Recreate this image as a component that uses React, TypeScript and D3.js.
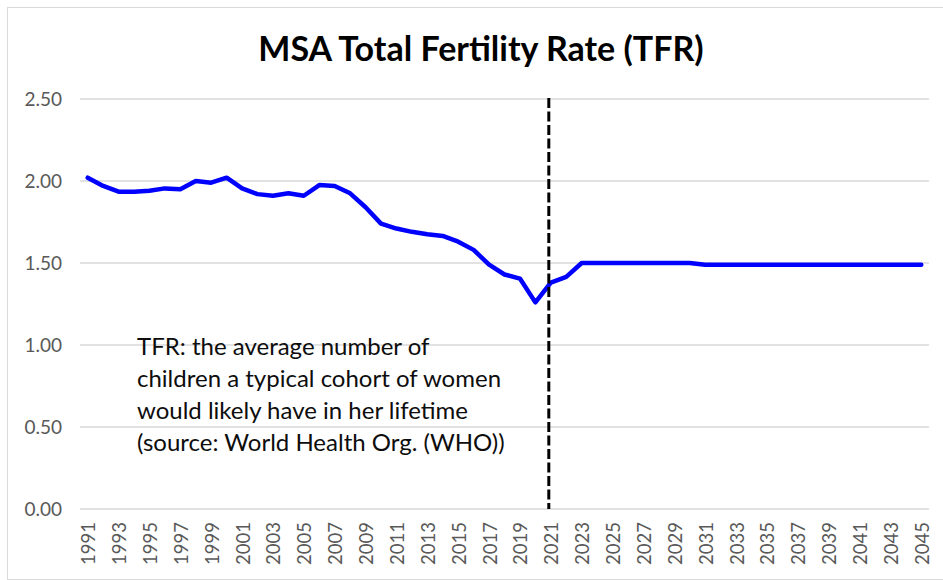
import React, { useEffect, useRef } from 'react';
import * as d3 from 'd3';

const years = [
  1991, 1992, 1993, 1994, 1995, 1996, 1997, 1998, 1999, 2000,
  2001, 2002, 2003, 2004, 2005, 2006, 2007, 2008, 2009, 2010,
  2011, 2012, 2013, 2014, 2015, 2016, 2017, 2018, 2019, 2020,
  2021, 2022, 2023, 2024, 2025, 2026, 2027, 2028, 2029, 2030,
  2031, 2032, 2033, 2034, 2035, 2036, 2037, 2038, 2039, 2040,
  2041, 2042, 2043, 2044, 2045,
];

const tfr = [
  2.02, 1.97, 1.935, 1.935, 1.94, 1.955, 1.95, 2.0, 1.99, 2.02,
  1.955, 1.92, 1.91, 1.925, 1.91, 1.975, 1.97, 1.925, 1.84, 1.74,
  1.71, 1.69, 1.675, 1.665, 1.63, 1.58, 1.49, 1.43, 1.405, 1.26,
  1.38, 1.415, 1.5, 1.5, 1.5, 1.5, 1.5, 1.5, 1.5, 1.5,
  1.49, 1.49, 1.49, 1.49, 1.49, 1.49, 1.49, 1.49, 1.49, 1.49,
  1.49, 1.49, 1.49, 1.49, 1.49,
];

const yTicks = [0, 0.5, 1.0, 1.5, 2.0, 2.5];
const markerYear = 2021;

const noteLines = [
  'TFR: the average number of',
  'children a typical cohort of women',
  'would likely have in her lifetime',
  '(source: World Health Org. (WHO))',
];

const W = 943;
const H = 580;
const margin = { top: 99, right: 14, bottom: 71, left: 80 };

const App: React.FC = () => {
  const svgRef = useRef<SVGSVGElement>(null);

  useEffect(() => {
    if (!svgRef.current) return;
    const svg = d3.select(svgRef.current);
    svg.selectAll('*').remove();

    const x = d3.scaleBand<number>()
      .domain(years)
      .range([margin.left, W - margin.right]);
    const y = d3.scaleLinear()
      .domain([0, 2.5])
      .range([H - margin.bottom, margin.top]);
    const cx = (yr: number) => (x(yr) ?? 0) + x.bandwidth() / 2;

    // chart frame
    svg.append('rect')
      .attr('x', 7.5).attr('y', 7.5)
      .attr('width', W).attr('height', H - 8)
      .attr('fill', '#fff')
      .attr('stroke', '#d9d9d9');

    // title
    svg.append('text')
      .attr('x', 481).attr('y', 61)
      .attr('text-anchor', 'middle')
      .style('font-family', 'Lato, sans-serif')
      .style('font-weight', '700')
      .style('font-size', '34px')
      .style('fill', '#000')
      .text('MSA Total Fertility Rate (TFR)');

    // gridlines
    svg.append('g')
      .selectAll('line')
      .data(yTicks)
      .join('line')
      .attr('x1', margin.left).attr('x2', W - margin.right)
      .attr('y1', d => y(d)).attr('y2', d => y(d))
      .attr('stroke', '#d9d9d9')
      .attr('stroke-width', 1.5);

    // y labels
    svg.append('g')
      .selectAll('text')
      .data(yTicks)
      .join('text')
      .attr('x', 62)
      .attr('y', d => y(d))
      .attr('dy', '0.35em')
      .attr('text-anchor', 'end')
      .style('font-family', 'Lato, sans-serif')
      .style('font-size', '19px')
      .style('fill', '#595959')
      .text(d => d.toFixed(2));

    // x labels (every other year)
    svg.append('g')
      .selectAll('text')
      .data(years.filter((_, i) => i % 2 === 0))
      .join('text')
      .attr('transform', d => `translate(${cx(d) + 1},522) rotate(-90)`)
      .attr('dy', '0.35em')
      .attr('text-anchor', 'end')
      .style('font-family', 'Lato, sans-serif')
      .style('font-size', '18.5px')
      .style('fill', '#595959')
      .text(d => String(d));

    // note text
    svg.append('g')
      .selectAll('text')
      .data(noteLines)
      .join('text')
      .attr('x', 137)
      .attr('y', (_, i) => 355 + i * 32)
      .style('font-family', 'Lato, sans-serif')
      .style('font-size', '24px')
      .style('fill', '#0d0d0d')
      .text(d => d);

    // TFR line
    const line = d3.line<number>()
      .x((_, i) => cx(years[i]))
      .y(d => y(d));
    svg.append('path')
      .datum(tfr)
      .attr('fill', 'none')
      .attr('stroke', '#0000ff')
      .attr('stroke-width', 4.5)
      .attr('stroke-linejoin', 'round')
      .attr('stroke-linecap', 'round')
      .attr('d', line);

    // 2021 marker
    svg.append('line')
      .attr('x1', cx(markerYear) - 2).attr('x2', cx(markerYear) - 2)
      .attr('y1', y(2.5) - 1).attr('y2', y(0))
      .attr('stroke', '#000')
      .attr('stroke-width', 3)
      .attr('stroke-dasharray', '10 3.5');
  }, []);

  return (
    <div style={{ position: 'absolute', left: 0, top: 0, width: W, height: H, background: '#fff' }}>
      <svg ref={svgRef} width={W} height={H} style={{ display: 'block' }} />
    </div>
  );
};

export default App;
